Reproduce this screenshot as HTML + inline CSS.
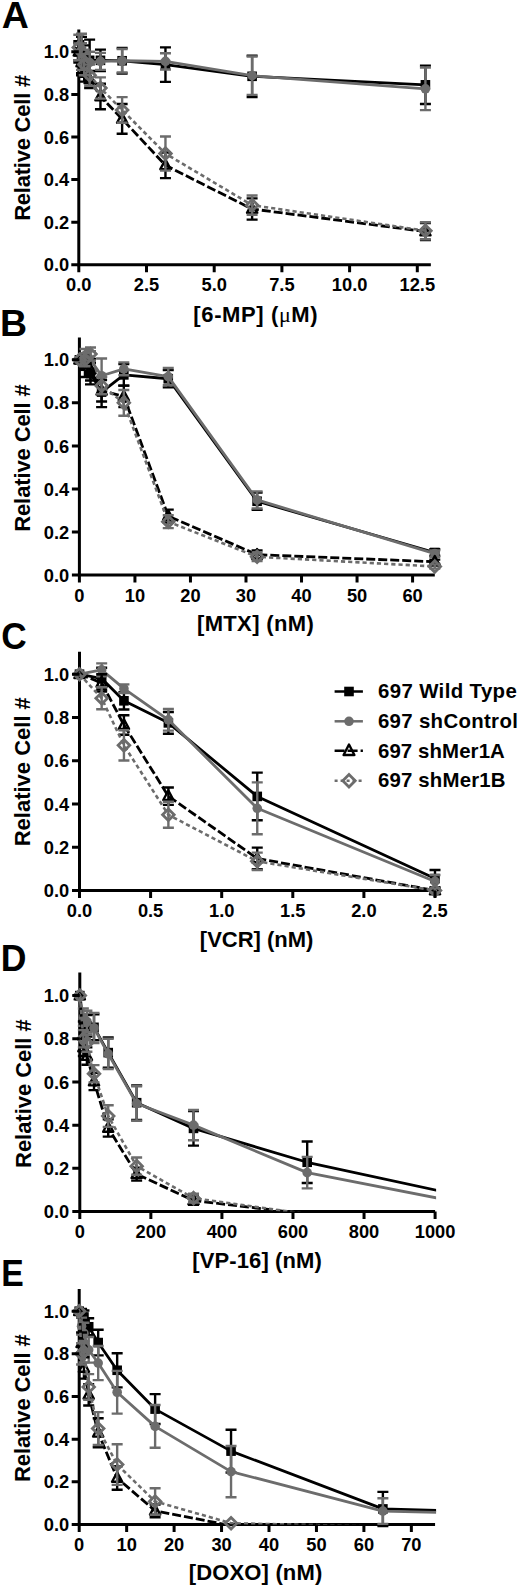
<!DOCTYPE html>
<html><head><meta charset="utf-8"><title>Figure</title>
<style>
html,body{margin:0;padding:0;background:#fff;}
svg{display:block;}
text{font-family:'Liberation Sans', sans-serif;font-weight:bold;fill:#000;}
.t{font-size:18.3px;}
.yt{font-size:22px;}
.L{font-size:37.5px;}
.mu{font-family:'Liberation Serif',serif;font-weight:normal;}
.lg{font-size:20.4px;}
</style></head>
<body>
<svg width="520" height="1589" viewBox="0 0 520 1589">
<rect width="520" height="1589" fill="#fff"/>
<clipPath id="cA"><rect x="66.8" y="14.44" width="374.04" height="265.37"/></clipPath>
<clipPath id="lA"><rect x="66.8" y="14.44" width="365.04" height="250.37"/></clipPath>
<path d="M78.8 29.44V264.8H430.84" stroke="#000" stroke-width="3" fill="none" stroke-linecap="butt"/>
<polyline clip-path="url(#lA)" points="78.8,51.8 81.51,56.06 84.22,58.19 89.63,60.32 100.46,60.32 122.13,60.75 165.46,64.58 252.11,76.3 425.42,84.82" fill="none" stroke="#000" stroke-width="2.8" stroke-linejoin="round"/>
<g clip-path="url(#cA)">
<path d="M78.8 43.28V60.32M73.3 43.28H84.3M73.3 60.32H84.3" stroke="#000" stroke-width="2.4" fill="none"/>
<path d="M81.51 36.89V75.23M76.01 36.89H87.01M76.01 75.23H87.01" stroke="#000" stroke-width="2.4" fill="none"/>
<path d="M84.22 45.41V70.97M78.72 45.41H89.72M78.72 70.97H89.72" stroke="#000" stroke-width="2.4" fill="none"/>
<path d="M89.63 39.66V80.98M84.13 39.66H95.13M84.13 80.98H95.13" stroke="#000" stroke-width="2.4" fill="none"/>
<path d="M100.46 49.67V70.97M94.96 49.67H105.96M94.96 70.97H105.96" stroke="#000" stroke-width="2.4" fill="none"/>
<path d="M122.13 47.97V73.53M116.63 47.97H127.63M116.63 73.53H127.63" stroke="#000" stroke-width="2.4" fill="none"/>
<path d="M165.46 47.33V81.83M159.96 47.33H170.96M159.96 81.83H170.96" stroke="#000" stroke-width="2.4" fill="none"/>
<path d="M252.11 55.63V96.96M246.61 55.63H257.61M246.61 96.96H257.61" stroke="#000" stroke-width="2.4" fill="none"/>
<path d="M425.42 65.65V103.99M419.92 65.65H430.92M419.92 103.99H430.92" stroke="#000" stroke-width="2.4" fill="none"/>
<rect x="74" y="47" width="9.6" height="9.6" fill="#000"/>
<rect x="76.71" y="51.26" width="9.6" height="9.6" fill="#000"/>
<rect x="79.42" y="53.39" width="9.6" height="9.6" fill="#000"/>
<rect x="84.83" y="55.52" width="9.6" height="9.6" fill="#000"/>
<rect x="95.66" y="55.52" width="9.6" height="9.6" fill="#000"/>
<rect x="117.33" y="55.95" width="9.6" height="9.6" fill="#000"/>
<rect x="160.66" y="59.78" width="9.6" height="9.6" fill="#000"/>
<rect x="247.31" y="71.5" width="9.6" height="9.6" fill="#000"/>
<rect x="420.62" y="80.02" width="9.6" height="9.6" fill="#000"/>
</g>
<polyline clip-path="url(#lA)" points="78.8,51.8 81.51,53.93 84.22,60.32 89.63,62.45 100.46,61.39 122.13,60.75 165.46,61.39 252.11,75.66 425.42,88.86" fill="none" stroke="#6c6c6c" stroke-width="2.8" stroke-linejoin="round"/>
<g clip-path="url(#cA)">
<path d="M78.8 43.28V60.32M73.3 43.28H84.3M73.3 60.32H84.3" stroke="#6c6c6c" stroke-width="2.4" fill="none"/>
<path d="M81.51 43.28V64.58M76.01 43.28H87.01M76.01 64.58H87.01" stroke="#6c6c6c" stroke-width="2.4" fill="none"/>
<path d="M84.22 49.67V70.97M78.72 49.67H89.72M78.72 70.97H89.72" stroke="#6c6c6c" stroke-width="2.4" fill="none"/>
<path d="M89.63 51.8V73.1M84.13 51.8H95.13M84.13 73.1H95.13" stroke="#6c6c6c" stroke-width="2.4" fill="none"/>
<path d="M100.46 52.87V69.91M94.96 52.87H105.96M94.96 69.91H105.96" stroke="#6c6c6c" stroke-width="2.4" fill="none"/>
<path d="M122.13 49.03V72.46M116.63 49.03H127.63M116.63 72.46H127.63" stroke="#6c6c6c" stroke-width="2.4" fill="none"/>
<path d="M165.46 53.29V69.48M159.96 53.29H170.96M159.96 69.48H170.96" stroke="#6c6c6c" stroke-width="2.4" fill="none"/>
<path d="M252.11 56.49V94.83M246.61 56.49H257.61M246.61 94.83H257.61" stroke="#6c6c6c" stroke-width="2.4" fill="none"/>
<path d="M425.42 67.56V110.16M419.92 67.56H430.92M419.92 110.16H430.92" stroke="#6c6c6c" stroke-width="2.4" fill="none"/>
<circle cx="78.8" cy="51.8" r="4.8" fill="#6c6c6c"/>
<circle cx="81.51" cy="53.93" r="4.8" fill="#6c6c6c"/>
<circle cx="84.22" cy="60.32" r="4.8" fill="#6c6c6c"/>
<circle cx="89.63" cy="62.45" r="4.8" fill="#6c6c6c"/>
<circle cx="100.46" cy="61.39" r="4.8" fill="#6c6c6c"/>
<circle cx="122.13" cy="60.75" r="4.8" fill="#6c6c6c"/>
<circle cx="165.46" cy="61.39" r="4.8" fill="#6c6c6c"/>
<circle cx="252.11" cy="75.66" r="4.8" fill="#6c6c6c"/>
<circle cx="425.42" cy="88.86" r="4.8" fill="#6c6c6c"/>
</g>
<polyline clip-path="url(#lA)" points="78.8,51.8 81.51,62.45 84.22,73.1 89.63,79.49 100.46,96.53 122.13,118.9 165.46,165.33 252.11,208.99 425.42,231.57" fill="none" stroke="#000" stroke-width="2.8" stroke-dasharray="9,3" stroke-linejoin="round"/>
<g clip-path="url(#cA)">
<path d="M78.8 41.15V62.45M73.3 41.15H84.3M73.3 62.45H84.3" stroke="#000" stroke-width="2.4" fill="none"/>
<path d="M81.51 51.8V73.1M76.01 51.8H87.01M76.01 73.1H87.01" stroke="#000" stroke-width="2.4" fill="none"/>
<path d="M84.22 64.58V81.62M78.72 64.58H89.72M78.72 81.62H89.72" stroke="#000" stroke-width="2.4" fill="none"/>
<path d="M89.63 70.97V88.01M84.13 70.97H95.13M84.13 88.01H95.13" stroke="#000" stroke-width="2.4" fill="none"/>
<path d="M100.46 83.75V109.31M94.96 83.75H105.96M94.96 109.31H105.96" stroke="#000" stroke-width="2.4" fill="none"/>
<path d="M122.13 103.98V133.81M116.63 103.98H127.63M116.63 133.81H127.63" stroke="#000" stroke-width="2.4" fill="none"/>
<path d="M165.46 152.55V178.11M159.96 152.55H170.96M159.96 178.11H170.96" stroke="#000" stroke-width="2.4" fill="none"/>
<path d="M252.11 198.34V219.64M246.61 198.34H257.61M246.61 219.64H257.61" stroke="#000" stroke-width="2.4" fill="none"/>
<path d="M425.42 223.05V240.09M419.92 223.05H430.92M419.92 240.09H430.92" stroke="#000" stroke-width="2.4" fill="none"/>
<polygon points="78.8,46.1 83.9,55.6 73.7,55.6" fill="none" stroke="#000" stroke-width="2.4" stroke-linejoin="round"/>
<polygon points="81.51,56.75 86.61,66.25 76.41,66.25" fill="none" stroke="#000" stroke-width="2.4" stroke-linejoin="round"/>
<polygon points="84.22,67.4 89.32,76.9 79.12,76.9" fill="none" stroke="#000" stroke-width="2.4" stroke-linejoin="round"/>
<polygon points="89.63,73.79 94.73,83.29 84.53,83.29" fill="none" stroke="#000" stroke-width="2.4" stroke-linejoin="round"/>
<polygon points="100.46,90.83 105.56,100.33 95.36,100.33" fill="none" stroke="#000" stroke-width="2.4" stroke-linejoin="round"/>
<polygon points="122.13,113.2 127.23,122.7 117.03,122.7" fill="none" stroke="#000" stroke-width="2.4" stroke-linejoin="round"/>
<polygon points="165.46,159.63 170.56,169.13 160.36,169.13" fill="none" stroke="#000" stroke-width="2.4" stroke-linejoin="round"/>
<polygon points="252.11,203.29 257.21,212.79 247.01,212.79" fill="none" stroke="#000" stroke-width="2.4" stroke-linejoin="round"/>
<polygon points="425.42,225.87 430.52,235.37 420.32,235.37" fill="none" stroke="#000" stroke-width="2.4" stroke-linejoin="round"/>
</g>
<polyline clip-path="url(#lA)" points="78.8,47.54 81.51,51.8 84.22,64.58 89.63,75.23 100.46,88.01 122.13,109.95 165.46,153.61 252.11,205.16 425.42,230.72" fill="none" stroke="#6c6c6c" stroke-width="2.6" stroke-dasharray="4.2,3" stroke-linejoin="round"/>
<g clip-path="url(#cA)">
<path d="M78.8 34.76V60.32M73.3 34.76H84.3M73.3 60.32H84.3" stroke="#6c6c6c" stroke-width="2.4" fill="none"/>
<path d="M81.51 33.7V69.91M76.01 33.7H87.01M76.01 69.91H87.01" stroke="#6c6c6c" stroke-width="2.4" fill="none"/>
<path d="M84.22 53.93V75.23M78.72 53.93H89.72M78.72 75.23H89.72" stroke="#6c6c6c" stroke-width="2.4" fill="none"/>
<path d="M89.63 64.58V85.88M84.13 64.58H95.13M84.13 85.88H95.13" stroke="#6c6c6c" stroke-width="2.4" fill="none"/>
<path d="M100.46 77.36V98.66M94.96 77.36H105.96M94.96 98.66H105.96" stroke="#6c6c6c" stroke-width="2.4" fill="none"/>
<path d="M122.13 97.17V122.73M116.63 97.17H127.63M116.63 122.73H127.63" stroke="#6c6c6c" stroke-width="2.4" fill="none"/>
<path d="M165.46 136.57V170.65M159.96 136.57H170.96M159.96 170.65H170.96" stroke="#6c6c6c" stroke-width="2.4" fill="none"/>
<path d="M252.11 195.57V214.75M246.61 195.57H257.61M246.61 214.75H257.61" stroke="#6c6c6c" stroke-width="2.4" fill="none"/>
<path d="M425.42 222.2V239.24M419.92 222.2H430.92M419.92 239.24H430.92" stroke="#6c6c6c" stroke-width="2.4" fill="none"/>
<polygon points="78.8,41.74 84.6,47.54 78.8,53.34 73,47.54" fill="none" stroke="#6c6c6c" stroke-width="2.8"/>
<polygon points="81.51,46 87.31,51.8 81.51,57.6 75.71,51.8" fill="none" stroke="#6c6c6c" stroke-width="2.8"/>
<polygon points="84.22,58.78 90.02,64.58 84.22,70.38 78.42,64.58" fill="none" stroke="#6c6c6c" stroke-width="2.8"/>
<polygon points="89.63,69.43 95.43,75.23 89.63,81.03 83.83,75.23" fill="none" stroke="#6c6c6c" stroke-width="2.8"/>
<polygon points="100.46,82.21 106.26,88.01 100.46,93.81 94.66,88.01" fill="none" stroke="#6c6c6c" stroke-width="2.8"/>
<polygon points="122.13,104.15 127.93,109.95 122.13,115.75 116.33,109.95" fill="none" stroke="#6c6c6c" stroke-width="2.8"/>
<polygon points="165.46,147.81 171.26,153.61 165.46,159.41 159.66,153.61" fill="none" stroke="#6c6c6c" stroke-width="2.8"/>
<polygon points="252.11,199.36 257.91,205.16 252.11,210.96 246.31,205.16" fill="none" stroke="#6c6c6c" stroke-width="2.8"/>
<polygon points="425.42,224.92 431.22,230.72 425.42,236.52 419.62,230.72" fill="none" stroke="#6c6c6c" stroke-width="2.8"/>
</g>
<text x="69.2" y="271.4" text-anchor="end" class="t">0.0</text>
<text x="69.2" y="228.8" text-anchor="end" class="t">0.2</text>
<text x="69.2" y="186.2" text-anchor="end" class="t">0.4</text>
<text x="69.2" y="143.6" text-anchor="end" class="t">0.6</text>
<text x="69.2" y="101" text-anchor="end" class="t">0.8</text>
<text x="69.2" y="58.4" text-anchor="end" class="t">1.0</text>
<text x="78.8" y="290.8" text-anchor="middle" class="t">0.0</text>
<text x="146.5" y="290.8" text-anchor="middle" class="t">2.5</text>
<text x="214.2" y="290.8" text-anchor="middle" class="t">5.0</text>
<text x="281.9" y="290.8" text-anchor="middle" class="t">7.5</text>
<text x="349.6" y="290.8" text-anchor="middle" class="t">10.0</text>
<text x="417.3" y="290.8" text-anchor="middle" class="t">12.5</text>
<path d="M71.3 264.8H78.8 M71.3 222.2H78.8 M71.3 179.6H78.8 M71.3 137H78.8 M71.3 94.4H78.8 M71.3 51.8H78.8 M78.8 264.8V272.3 M146.5 264.8V272.3 M214.2 264.8V272.3 M281.9 264.8V272.3 M349.6 264.8V272.3 M417.3 264.8V272.3" stroke="#000" stroke-width="3" fill="none"/>
<text transform="translate(29.5,0) rotate(-90)" x="-220.87" y="0" textLength="146.03" lengthAdjust="spacing" class="yt">Relative Cell #</text>
<text x="193.36" y="321.6" textLength="124.23" lengthAdjust="spacing" class="yt">[6-MP] (<tspan class="mu">μ</tspan>M)</text>
<text transform="translate(1.67,28.1) scale(1.0,1)" class="L">A</text>
<clipPath id="cB"><rect x="67.4" y="322.41" width="377.39" height="267.69"/></clipPath>
<clipPath id="lB"><rect x="67.4" y="322.41" width="368.39" height="252.69"/></clipPath>
<path d="M79.4 337.41V575.1H434.79" stroke="#000" stroke-width="3" fill="none" stroke-linecap="butt"/>
<polyline clip-path="url(#lB)" points="79.4,359.8 84.95,366.26 90.51,373.58 101.61,392.1 123.82,374.87 168.25,378.75 257.1,501.25 434.79,552.49" fill="none" stroke="#000" stroke-width="2.8" stroke-linejoin="round"/>
<g clip-path="url(#cB)">
<path d="M84.95 355.49V377.02M79.45 355.49H90.45M79.45 377.02H90.45" stroke="#000" stroke-width="2.4" fill="none"/>
<path d="M90.51 362.81V384.34M85.01 362.81H96.01M85.01 384.34H96.01" stroke="#000" stroke-width="2.4" fill="none"/>
<path d="M101.61 377.02V407.17M96.11 377.02H107.11M96.11 407.17H107.11" stroke="#000" stroke-width="2.4" fill="none"/>
<path d="M123.82 364.11V385.64M118.32 364.11H129.32M118.32 385.64H129.32" stroke="#000" stroke-width="2.4" fill="none"/>
<path d="M168.25 370.13V387.36M162.75 370.13H173.75M162.75 387.36H173.75" stroke="#000" stroke-width="2.4" fill="none"/>
<path d="M257.1 492.64V509.86M251.6 492.64H262.6M251.6 509.86H262.6" stroke="#000" stroke-width="2.4" fill="none"/>
<path d="M434.79 549.26V555.72M429.29 549.26H440.29M429.29 555.72H440.29" stroke="#000" stroke-width="2.4" fill="none"/>
<rect x="74.6" y="355" width="9.6" height="9.6" fill="#000"/>
<rect x="80.15" y="361.46" width="9.6" height="9.6" fill="#000"/>
<rect x="85.71" y="368.78" width="9.6" height="9.6" fill="#000"/>
<rect x="96.81" y="387.3" width="9.6" height="9.6" fill="#000"/>
<rect x="119.02" y="370.07" width="9.6" height="9.6" fill="#000"/>
<rect x="163.45" y="373.95" width="9.6" height="9.6" fill="#000"/>
<rect x="252.3" y="496.45" width="9.6" height="9.6" fill="#000"/>
<rect x="429.99" y="547.69" width="9.6" height="9.6" fill="#000"/>
</g>
<polyline clip-path="url(#lB)" points="79.4,359.8 84.95,355.49 90.51,359.8 101.61,375.73 123.82,368.84 168.25,376.59 257.1,499.96 434.79,553.57" fill="none" stroke="#6c6c6c" stroke-width="2.8" stroke-linejoin="round"/>
<g clip-path="url(#cB)">
<path d="M84.95 349.03V361.95M79.45 349.03H90.45M79.45 361.95H90.45" stroke="#6c6c6c" stroke-width="2.4" fill="none"/>
<path d="M90.51 351.19V368.41M85.01 351.19H96.01M85.01 368.41H96.01" stroke="#6c6c6c" stroke-width="2.4" fill="none"/>
<path d="M101.61 358.51V392.96M96.11 358.51H107.11M96.11 392.96H107.11" stroke="#6c6c6c" stroke-width="2.4" fill="none"/>
<path d="M123.82 362.38V375.3M118.32 362.38H129.32M118.32 375.3H129.32" stroke="#6c6c6c" stroke-width="2.4" fill="none"/>
<path d="M168.25 367.98V385.21M162.75 367.98H173.75M162.75 385.21H173.75" stroke="#6c6c6c" stroke-width="2.4" fill="none"/>
<path d="M257.1 491.35V508.57M251.6 491.35H262.6M251.6 508.57H262.6" stroke="#6c6c6c" stroke-width="2.4" fill="none"/>
<path d="M434.79 550.34V556.8M429.29 550.34H440.29M429.29 556.8H440.29" stroke="#6c6c6c" stroke-width="2.4" fill="none"/>
<circle cx="79.4" cy="359.8" r="4.8" fill="#6c6c6c"/>
<circle cx="84.95" cy="355.49" r="4.8" fill="#6c6c6c"/>
<circle cx="90.51" cy="359.8" r="4.8" fill="#6c6c6c"/>
<circle cx="101.61" cy="375.73" r="4.8" fill="#6c6c6c"/>
<circle cx="123.82" cy="368.84" r="4.8" fill="#6c6c6c"/>
<circle cx="168.25" cy="376.59" r="4.8" fill="#6c6c6c"/>
<circle cx="257.1" cy="499.96" r="4.8" fill="#6c6c6c"/>
<circle cx="434.79" cy="553.57" r="4.8" fill="#6c6c6c"/>
</g>
<polyline clip-path="url(#lB)" points="79.4,359.8 84.95,361.95 90.51,369.7 101.61,390.8 123.82,396.4 168.25,516.11 257.1,554.65 434.79,561.75" fill="none" stroke="#000" stroke-width="2.8" stroke-dasharray="9,3" stroke-linejoin="round"/>
<g clip-path="url(#cB)">
<path d="M84.95 355.49V368.41M79.45 355.49H90.45M79.45 368.41H90.45" stroke="#000" stroke-width="2.4" fill="none"/>
<path d="M90.51 358.94V380.47M85.01 358.94H96.01M85.01 380.47H96.01" stroke="#000" stroke-width="2.4" fill="none"/>
<path d="M101.61 380.04V401.57M96.11 380.04H107.11M96.11 401.57H107.11" stroke="#000" stroke-width="2.4" fill="none"/>
<path d="M123.82 385.64V407.17M118.32 385.64H129.32M118.32 407.17H129.32" stroke="#000" stroke-width="2.4" fill="none"/>
<path d="M168.25 509.65V522.57M162.75 509.65H173.75M162.75 522.57H173.75" stroke="#000" stroke-width="2.4" fill="none"/>
<path d="M257.1 550.34V558.95M251.6 550.34H262.6M251.6 558.95H262.6" stroke="#000" stroke-width="2.4" fill="none"/>
<path d="M434.79 559.6V563.9M429.29 559.6H440.29M429.29 563.9H440.29" stroke="#000" stroke-width="2.4" fill="none"/>
<polygon points="79.4,354.1 84.5,363.6 74.3,363.6" fill="none" stroke="#000" stroke-width="2.4" stroke-linejoin="round"/>
<polygon points="84.95,356.25 90.05,365.75 79.85,365.75" fill="none" stroke="#000" stroke-width="2.4" stroke-linejoin="round"/>
<polygon points="90.51,364 95.61,373.5 85.41,373.5" fill="none" stroke="#000" stroke-width="2.4" stroke-linejoin="round"/>
<polygon points="101.61,385.1 106.71,394.6 96.51,394.6" fill="none" stroke="#000" stroke-width="2.4" stroke-linejoin="round"/>
<polygon points="123.82,390.7 128.92,400.2 118.72,400.2" fill="none" stroke="#000" stroke-width="2.4" stroke-linejoin="round"/>
<polygon points="168.25,510.41 173.35,519.91 163.15,519.91" fill="none" stroke="#000" stroke-width="2.4" stroke-linejoin="round"/>
<polygon points="257.1,548.95 262.2,558.45 252,558.45" fill="none" stroke="#000" stroke-width="2.4" stroke-linejoin="round"/>
<polygon points="434.79,556.05 439.89,565.55 429.69,565.55" fill="none" stroke="#000" stroke-width="2.4" stroke-linejoin="round"/>
</g>
<polyline clip-path="url(#lB)" points="79.4,359.8 84.95,359.8 90.51,353.99 101.61,385.64 123.82,402.86 168.25,521.71 257.1,556.8 434.79,566.49" fill="none" stroke="#6c6c6c" stroke-width="2.6" stroke-dasharray="4.2,3" stroke-linejoin="round"/>
<g clip-path="url(#cB)">
<path d="M84.95 353.34V366.26M79.45 353.34H90.45M79.45 366.26H90.45" stroke="#6c6c6c" stroke-width="2.4" fill="none"/>
<path d="M90.51 347.53V360.45M85.01 347.53H96.01M85.01 360.45H96.01" stroke="#6c6c6c" stroke-width="2.4" fill="none"/>
<path d="M101.61 377.02V394.25M96.11 377.02H107.11M96.11 394.25H107.11" stroke="#6c6c6c" stroke-width="2.4" fill="none"/>
<path d="M123.82 389.94V415.78M118.32 389.94H129.32M118.32 415.78H129.32" stroke="#6c6c6c" stroke-width="2.4" fill="none"/>
<path d="M168.25 515.25V528.16M162.75 515.25H173.75M162.75 528.16H173.75" stroke="#6c6c6c" stroke-width="2.4" fill="none"/>
<path d="M257.1 552.49V561.11M251.6 552.49H262.6M251.6 561.11H262.6" stroke="#6c6c6c" stroke-width="2.4" fill="none"/>
<path d="M434.79 564.34V568.64M429.29 564.34H440.29M429.29 568.64H440.29" stroke="#6c6c6c" stroke-width="2.4" fill="none"/>
<polygon points="79.4,354 85.2,359.8 79.4,365.6 73.6,359.8" fill="none" stroke="#6c6c6c" stroke-width="2.8"/>
<polygon points="84.95,354 90.75,359.8 84.95,365.6 79.15,359.8" fill="none" stroke="#6c6c6c" stroke-width="2.8"/>
<polygon points="90.51,348.19 96.31,353.99 90.51,359.79 84.71,353.99" fill="none" stroke="#6c6c6c" stroke-width="2.8"/>
<polygon points="101.61,379.84 107.41,385.64 101.61,391.44 95.81,385.64" fill="none" stroke="#6c6c6c" stroke-width="2.8"/>
<polygon points="123.82,397.06 129.62,402.86 123.82,408.66 118.02,402.86" fill="none" stroke="#6c6c6c" stroke-width="2.8"/>
<polygon points="168.25,515.91 174.05,521.71 168.25,527.51 162.45,521.71" fill="none" stroke="#6c6c6c" stroke-width="2.8"/>
<polygon points="257.1,551 262.9,556.8 257.1,562.6 251.3,556.8" fill="none" stroke="#6c6c6c" stroke-width="2.8"/>
<polygon points="434.79,560.69 440.59,566.49 434.79,572.29 428.99,566.49" fill="none" stroke="#6c6c6c" stroke-width="2.8"/>
</g>
<text x="69.2" y="581.7" text-anchor="end" class="t">0.0</text>
<text x="69.2" y="538.64" text-anchor="end" class="t">0.2</text>
<text x="69.2" y="495.58" text-anchor="end" class="t">0.4</text>
<text x="69.2" y="452.52" text-anchor="end" class="t">0.6</text>
<text x="69.2" y="409.46" text-anchor="end" class="t">0.8</text>
<text x="69.2" y="366.4" text-anchor="end" class="t">1.0</text>
<text x="79.4" y="601.7" text-anchor="middle" class="t">0</text>
<text x="134.93" y="601.7" text-anchor="middle" class="t">10</text>
<text x="190.46" y="601.7" text-anchor="middle" class="t">20</text>
<text x="245.99" y="601.7" text-anchor="middle" class="t">30</text>
<text x="301.52" y="601.7" text-anchor="middle" class="t">40</text>
<text x="357.05" y="601.7" text-anchor="middle" class="t">50</text>
<text x="412.58" y="601.7" text-anchor="middle" class="t">60</text>
<path d="M71.9 575.1H79.4 M71.9 532.04H79.4 M71.9 488.98H79.4 M71.9 445.92H79.4 M71.9 402.86H79.4 M71.9 359.8H79.4 M79.4 575.1V582.6 M134.93 575.1V582.6 M190.46 575.1V582.6 M245.99 575.1V582.6 M301.52 575.1V582.6 M357.05 575.1V582.6 M412.58 575.1V582.6" stroke="#000" stroke-width="3" fill="none"/>
<text transform="translate(30.3,0) rotate(-90)" x="-531.77" y="0" textLength="147.63" lengthAdjust="spacing" class="yt">Relative Cell #</text>
<text x="196.96" y="630.6" textLength="116.83" lengthAdjust="spacing" class="yt">[MTX] (nM)</text>
<text transform="translate(-0.11,335.5) scale(1.0,1)" class="L">B</text>
<clipPath id="cC"><rect x="67.5" y="636.7" width="377.5" height="268.8"/></clipPath>
<clipPath id="lC"><rect x="67.5" y="636.7" width="368.5" height="253.8"/></clipPath>
<path d="M79.5 651.7V890.5H435" stroke="#000" stroke-width="3" fill="none" stroke-linecap="butt"/>
<polyline clip-path="url(#lC)" points="79.5,674.2 101.68,678.53 123.94,700.8 168.38,722.87 257.25,796.41 435,878.6" fill="none" stroke="#000" stroke-width="2.8" stroke-linejoin="round"/>
<g clip-path="url(#cC)">
<path d="M101.68 667.71V689.34M96.18 667.71H107.18M96.18 689.34H107.18" stroke="#000" stroke-width="2.4" fill="none"/>
<path d="M123.94 692.15V709.46M118.44 692.15H129.44M118.44 709.46H129.44" stroke="#000" stroke-width="2.4" fill="none"/>
<path d="M168.38 712.05V733.68M162.88 712.05H173.88M162.88 733.68H173.88" stroke="#000" stroke-width="2.4" fill="none"/>
<path d="M257.25 772.62V820.2M251.75 772.62H262.75M251.75 820.2H262.75" stroke="#000" stroke-width="2.4" fill="none"/>
<path d="M435 869.95V887.26M429.5 869.95H440.5M429.5 887.26H440.5" stroke="#000" stroke-width="2.4" fill="none"/>
<rect x="74.7" y="669.4" width="9.6" height="9.6" fill="#000"/>
<rect x="96.88" y="673.73" width="9.6" height="9.6" fill="#000"/>
<rect x="119.14" y="696" width="9.6" height="9.6" fill="#000"/>
<rect x="163.57" y="718.07" width="9.6" height="9.6" fill="#000"/>
<rect x="252.45" y="791.61" width="9.6" height="9.6" fill="#000"/>
<rect x="430.2" y="873.8" width="9.6" height="9.6" fill="#000"/>
</g>
<polyline clip-path="url(#lC)" points="79.5,674.2 101.68,669.87 123.94,688.69 168.38,719.84 257.25,808.31 435,881.42" fill="none" stroke="#6c6c6c" stroke-width="2.8" stroke-linejoin="round"/>
<g clip-path="url(#cC)">
<path d="M101.68 663.38V676.36M96.18 663.38H107.18M96.18 676.36H107.18" stroke="#6c6c6c" stroke-width="2.4" fill="none"/>
<path d="M123.94 684.37V693.02M118.44 684.37H129.44M118.44 693.02H129.44" stroke="#6c6c6c" stroke-width="2.4" fill="none"/>
<path d="M168.38 709.02V730.65M162.88 709.02H173.88M162.88 730.65H173.88" stroke="#6c6c6c" stroke-width="2.4" fill="none"/>
<path d="M257.25 782.35V834.26M251.75 782.35H262.75M251.75 834.26H262.75" stroke="#6c6c6c" stroke-width="2.4" fill="none"/>
<path d="M435 874.93V887.9M429.5 874.93H440.5M429.5 887.9H440.5" stroke="#6c6c6c" stroke-width="2.4" fill="none"/>
<circle cx="79.5" cy="674.2" r="4.8" fill="#6c6c6c"/>
<circle cx="101.68" cy="669.87" r="4.8" fill="#6c6c6c"/>
<circle cx="123.94" cy="688.69" r="4.8" fill="#6c6c6c"/>
<circle cx="168.38" cy="719.84" r="4.8" fill="#6c6c6c"/>
<circle cx="257.25" cy="808.31" r="4.8" fill="#6c6c6c"/>
<circle cx="435" cy="881.42" r="4.8" fill="#6c6c6c"/>
</g>
<polyline clip-path="url(#lC)" points="79.5,674.2 101.68,682.85 123.94,725.03 168.38,796.19 257.25,858.49 435,890.5" fill="none" stroke="#000" stroke-width="2.8" stroke-dasharray="9,3" stroke-linejoin="round"/>
<g clip-path="url(#cC)">
<path d="M101.68 674.2V691.5M96.18 674.2H107.18M96.18 691.5H107.18" stroke="#000" stroke-width="2.4" fill="none"/>
<path d="M123.94 715.3V734.76M118.44 715.3H129.44M118.44 734.76H129.44" stroke="#000" stroke-width="2.4" fill="none"/>
<path d="M168.38 787.54V804.85M162.88 787.54H173.88M162.88 804.85H173.88" stroke="#000" stroke-width="2.4" fill="none"/>
<path d="M257.25 847.67V869.3M251.75 847.67H262.75M251.75 869.3H262.75" stroke="#000" stroke-width="2.4" fill="none"/>
<path d="M435 888.34V892.66M429.5 888.34H440.5M429.5 892.66H440.5" stroke="#000" stroke-width="2.4" fill="none"/>
<polygon points="79.5,668.5 84.6,678 74.4,678" fill="none" stroke="#000" stroke-width="2.4" stroke-linejoin="round"/>
<polygon points="101.68,677.15 106.78,686.65 96.58,686.65" fill="none" stroke="#000" stroke-width="2.4" stroke-linejoin="round"/>
<polygon points="123.94,719.33 129.04,728.83 118.84,728.83" fill="none" stroke="#000" stroke-width="2.4" stroke-linejoin="round"/>
<polygon points="168.38,790.49 173.47,799.99 163.28,799.99" fill="none" stroke="#000" stroke-width="2.4" stroke-linejoin="round"/>
<polygon points="257.25,852.79 262.35,862.29 252.15,862.29" fill="none" stroke="#000" stroke-width="2.4" stroke-linejoin="round"/>
<polygon points="435,884.8 440.1,894.3 429.9,894.3" fill="none" stroke="#000" stroke-width="2.4" stroke-linejoin="round"/>
</g>
<polyline clip-path="url(#lC)" points="79.5,674.2 101.68,698.21 123.94,745.36 168.38,814.79 257.25,861.3 435,890.5" fill="none" stroke="#6c6c6c" stroke-width="2.6" stroke-dasharray="4.2,3" stroke-linejoin="round"/>
<g clip-path="url(#cC)">
<path d="M101.68 687.18V709.24M96.18 687.18H107.18M96.18 709.24H107.18" stroke="#6c6c6c" stroke-width="2.4" fill="none"/>
<path d="M123.94 730.22V760.5M118.44 730.22H129.44M118.44 760.5H129.44" stroke="#6c6c6c" stroke-width="2.4" fill="none"/>
<path d="M168.38 801.82V827.77M162.88 801.82H173.88M162.88 827.77H173.88" stroke="#6c6c6c" stroke-width="2.4" fill="none"/>
<path d="M257.25 852.65V869.95M251.75 852.65H262.75M251.75 869.95H262.75" stroke="#6c6c6c" stroke-width="2.4" fill="none"/>
<path d="M435 888.34V892.66M429.5 888.34H440.5M429.5 892.66H440.5" stroke="#6c6c6c" stroke-width="2.4" fill="none"/>
<polygon points="79.5,668.4 85.3,674.2 79.5,680 73.7,674.2" fill="none" stroke="#6c6c6c" stroke-width="2.8"/>
<polygon points="101.68,692.41 107.48,698.21 101.68,704.01 95.88,698.21" fill="none" stroke="#6c6c6c" stroke-width="2.8"/>
<polygon points="123.94,739.56 129.74,745.36 123.94,751.16 118.14,745.36" fill="none" stroke="#6c6c6c" stroke-width="2.8"/>
<polygon points="168.38,809 174.18,814.79 168.38,820.59 162.57,814.79" fill="none" stroke="#6c6c6c" stroke-width="2.8"/>
<polygon points="257.25,855.5 263.05,861.3 257.25,867.1 251.45,861.3" fill="none" stroke="#6c6c6c" stroke-width="2.8"/>
<polygon points="435,884.7 440.8,890.5 435,896.3 429.2,890.5" fill="none" stroke="#6c6c6c" stroke-width="2.8"/>
</g>
<text x="69.2" y="897.1" text-anchor="end" class="t">0.0</text>
<text x="69.2" y="853.84" text-anchor="end" class="t">0.2</text>
<text x="69.2" y="810.58" text-anchor="end" class="t">0.4</text>
<text x="69.2" y="767.32" text-anchor="end" class="t">0.6</text>
<text x="69.2" y="724.06" text-anchor="end" class="t">0.8</text>
<text x="69.2" y="680.8" text-anchor="end" class="t">1.0</text>
<text x="79.5" y="916.7" text-anchor="middle" class="t">0.0</text>
<text x="150.6" y="916.7" text-anchor="middle" class="t">0.5</text>
<text x="221.7" y="916.7" text-anchor="middle" class="t">1.0</text>
<text x="292.8" y="916.7" text-anchor="middle" class="t">1.5</text>
<text x="363.9" y="916.7" text-anchor="middle" class="t">2.0</text>
<text x="435" y="916.7" text-anchor="middle" class="t">2.5</text>
<path d="M72 890.5H79.5 M72 847.24H79.5 M72 803.98H79.5 M72 760.72H79.5 M72 717.46H79.5 M72 674.2H79.5 M79.5 890.5V898 M150.6 890.5V898 M221.7 890.5V898 M292.8 890.5V898 M363.9 890.5V898 M435 890.5V898" stroke="#000" stroke-width="3" fill="none"/>
<text transform="translate(30.3,0) rotate(-90)" x="-846.27" y="0" textLength="149.13" lengthAdjust="spacing" class="yt">Relative Cell #</text>
<text x="199.86" y="947.1" textLength="113.43" lengthAdjust="spacing" class="yt">[VCR] (nM)</text>
<text transform="translate(1.35,648.6) scale(0.94,1)" class="L">C</text>
<clipPath id="cD"><rect x="67.8" y="957.5" width="377.3" height="269"/></clipPath>
<clipPath id="lD"><rect x="67.8" y="957.5" width="368.3" height="254"/></clipPath>
<path d="M79.8 972.5V1211.5H435.1" stroke="#000" stroke-width="3" fill="none" stroke-linecap="butt"/>
<polyline clip-path="url(#lD)" points="79.8,995.6 83.35,1030.14 86.91,1025.83 94.01,1027.34 108.22,1052.6 136.65,1102.69 193.5,1128.38 307.19,1162.27 534.58,1211.5" fill="none" stroke="#000" stroke-width="2.8" stroke-linejoin="round"/>
<g clip-path="url(#cD)">
<path d="M83.35 1021.51V1038.78M77.85 1021.51H88.85M77.85 1038.78H88.85" stroke="#000" stroke-width="2.4" fill="none"/>
<path d="M86.91 1015.03V1036.62M81.41 1015.03H92.41M81.41 1036.62H92.41" stroke="#000" stroke-width="2.4" fill="none"/>
<path d="M94.01 1014.38V1040.29M88.51 1014.38H99.51M88.51 1040.29H99.51" stroke="#000" stroke-width="2.4" fill="none"/>
<path d="M108.22 1037.48V1067.71M102.72 1037.48H113.72M102.72 1067.71H113.72" stroke="#000" stroke-width="2.4" fill="none"/>
<path d="M136.65 1085.41V1119.96M131.15 1085.41H142.15M131.15 1119.96H142.15" stroke="#000" stroke-width="2.4" fill="none"/>
<path d="M193.5 1111.11V1145.65M188 1111.11H199M188 1145.65H199" stroke="#000" stroke-width="2.4" fill="none"/>
<path d="M307.19 1141.55V1183M301.69 1141.55H312.69M301.69 1183H312.69" stroke="#000" stroke-width="2.4" fill="none"/>
<rect x="75" y="990.8" width="9.6" height="9.6" fill="#000"/>
<rect x="78.55" y="1025.34" width="9.6" height="9.6" fill="#000"/>
<rect x="82.11" y="1021.03" width="9.6" height="9.6" fill="#000"/>
<rect x="89.21" y="1022.54" width="9.6" height="9.6" fill="#000"/>
<rect x="103.42" y="1047.8" width="9.6" height="9.6" fill="#000"/>
<rect x="131.85" y="1097.89" width="9.6" height="9.6" fill="#000"/>
<rect x="188.7" y="1123.58" width="9.6" height="9.6" fill="#000"/>
<rect x="302.39" y="1157.47" width="9.6" height="9.6" fill="#000"/>
</g>
<polyline clip-path="url(#lD)" points="79.8,995.6 83.35,1017.19 86.91,1021.51 94.01,1027.99 108.22,1053.89 136.65,1103.55 193.5,1125.14 307.19,1172.64 534.58,1217.11" fill="none" stroke="#6c6c6c" stroke-width="2.8" stroke-linejoin="round"/>
<g clip-path="url(#cD)">
<path d="M83.35 1008.55V1025.83M77.85 1008.55H88.85M77.85 1025.83H88.85" stroke="#6c6c6c" stroke-width="2.4" fill="none"/>
<path d="M86.91 1010.71V1032.3M81.41 1010.71H92.41M81.41 1032.3H92.41" stroke="#6c6c6c" stroke-width="2.4" fill="none"/>
<path d="M94.01 1012.87V1043.1M88.51 1012.87H99.51M88.51 1043.1H99.51" stroke="#6c6c6c" stroke-width="2.4" fill="none"/>
<path d="M108.22 1038.78V1069.01M102.72 1038.78H113.72M102.72 1069.01H113.72" stroke="#6c6c6c" stroke-width="2.4" fill="none"/>
<path d="M136.65 1086.28V1120.82M131.15 1086.28H142.15M131.15 1120.82H142.15" stroke="#6c6c6c" stroke-width="2.4" fill="none"/>
<path d="M193.5 1110.03V1140.25M188 1110.03H199M188 1140.25H199" stroke="#6c6c6c" stroke-width="2.4" fill="none"/>
<path d="M307.19 1156.88V1188.4M301.69 1156.88H312.69M301.69 1188.4H312.69" stroke="#6c6c6c" stroke-width="2.4" fill="none"/>
<circle cx="79.8" cy="995.6" r="4.8" fill="#6c6c6c"/>
<circle cx="83.35" cy="1017.19" r="4.8" fill="#6c6c6c"/>
<circle cx="86.91" cy="1021.51" r="4.8" fill="#6c6c6c"/>
<circle cx="94.01" cy="1027.99" r="4.8" fill="#6c6c6c"/>
<circle cx="108.22" cy="1053.89" r="4.8" fill="#6c6c6c"/>
<circle cx="136.65" cy="1103.55" r="4.8" fill="#6c6c6c"/>
<circle cx="193.5" cy="1125.14" r="4.8" fill="#6c6c6c"/>
<circle cx="307.19" cy="1172.64" r="4.8" fill="#6c6c6c"/>
</g>
<polyline clip-path="url(#lD)" points="79.8,995.6 83.35,1047.42 86.91,1056.05 94.01,1081.53 108.22,1127.95 136.65,1174.15 193.5,1200.49 307.19,1214.09" fill="none" stroke="#000" stroke-width="2.8" stroke-dasharray="9,3" stroke-linejoin="round"/>
<g clip-path="url(#cD)">
<path d="M83.35 1038.78V1056.05M77.85 1038.78H88.85M77.85 1056.05H88.85" stroke="#000" stroke-width="2.4" fill="none"/>
<path d="M86.91 1047.42V1064.69M81.41 1047.42H92.41M81.41 1064.69H92.41" stroke="#000" stroke-width="2.4" fill="none"/>
<path d="M94.01 1072.89V1090.16M88.51 1072.89H99.51M88.51 1090.16H99.51" stroke="#000" stroke-width="2.4" fill="none"/>
<path d="M108.22 1119.31V1136.58M102.72 1119.31H113.72M102.72 1136.58H113.72" stroke="#000" stroke-width="2.4" fill="none"/>
<path d="M136.65 1167.67V1180.63M131.15 1167.67H142.15M131.15 1180.63H142.15" stroke="#000" stroke-width="2.4" fill="none"/>
<path d="M193.5 1196.17V1204.81M188 1196.17H199M188 1204.81H199" stroke="#000" stroke-width="2.4" fill="none"/>
<polygon points="79.8,989.9 84.9,999.4 74.7,999.4" fill="none" stroke="#000" stroke-width="2.4" stroke-linejoin="round"/>
<polygon points="83.35,1041.72 88.45,1051.22 78.25,1051.22" fill="none" stroke="#000" stroke-width="2.4" stroke-linejoin="round"/>
<polygon points="86.91,1050.35 92.01,1059.85 81.81,1059.85" fill="none" stroke="#000" stroke-width="2.4" stroke-linejoin="round"/>
<polygon points="94.01,1075.83 99.11,1085.33 88.91,1085.33" fill="none" stroke="#000" stroke-width="2.4" stroke-linejoin="round"/>
<polygon points="108.22,1122.25 113.32,1131.75 103.12,1131.75" fill="none" stroke="#000" stroke-width="2.4" stroke-linejoin="round"/>
<polygon points="136.65,1168.45 141.75,1177.95 131.55,1177.95" fill="none" stroke="#000" stroke-width="2.4" stroke-linejoin="round"/>
<polygon points="193.5,1194.79 198.6,1204.29 188.4,1204.29" fill="none" stroke="#000" stroke-width="2.4" stroke-linejoin="round"/>
</g>
<polyline clip-path="url(#lD)" points="79.8,995.6 83.35,1038.78 86.91,1043.1 94.01,1073.76 108.22,1116.07 136.65,1166.16 193.5,1198.11 307.19,1214.09" fill="none" stroke="#6c6c6c" stroke-width="2.6" stroke-dasharray="4.2,3" stroke-linejoin="round"/>
<g clip-path="url(#cD)">
<path d="M83.35 1030.14V1047.42M77.85 1030.14H88.85M77.85 1047.42H88.85" stroke="#6c6c6c" stroke-width="2.4" fill="none"/>
<path d="M86.91 1034.46V1051.73M81.41 1034.46H92.41M81.41 1051.73H92.41" stroke="#6c6c6c" stroke-width="2.4" fill="none"/>
<path d="M94.01 1065.12V1082.39M88.51 1065.12H99.51M88.51 1082.39H99.51" stroke="#6c6c6c" stroke-width="2.4" fill="none"/>
<path d="M108.22 1105.28V1126.87M102.72 1105.28H113.72M102.72 1126.87H113.72" stroke="#6c6c6c" stroke-width="2.4" fill="none"/>
<path d="M136.65 1157.53V1174.8M131.15 1157.53H142.15M131.15 1174.8H142.15" stroke="#6c6c6c" stroke-width="2.4" fill="none"/>
<path d="M193.5 1193.8V1202.43M188 1193.8H199M188 1202.43H199" stroke="#6c6c6c" stroke-width="2.4" fill="none"/>
<polygon points="79.8,989.8 85.6,995.6 79.8,1001.4 74,995.6" fill="none" stroke="#6c6c6c" stroke-width="2.8"/>
<polygon points="83.35,1032.98 89.15,1038.78 83.35,1044.58 77.55,1038.78" fill="none" stroke="#6c6c6c" stroke-width="2.8"/>
<polygon points="86.91,1037.3 92.71,1043.1 86.91,1048.9 81.11,1043.1" fill="none" stroke="#6c6c6c" stroke-width="2.8"/>
<polygon points="94.01,1067.96 99.81,1073.76 94.01,1079.56 88.21,1073.76" fill="none" stroke="#6c6c6c" stroke-width="2.8"/>
<polygon points="108.22,1110.27 114.02,1116.07 108.22,1121.87 102.42,1116.07" fill="none" stroke="#6c6c6c" stroke-width="2.8"/>
<polygon points="136.65,1160.36 142.45,1166.16 136.65,1171.96 130.85,1166.16" fill="none" stroke="#6c6c6c" stroke-width="2.8"/>
<polygon points="193.5,1192.31 199.3,1198.11 193.5,1203.91 187.7,1198.11" fill="none" stroke="#6c6c6c" stroke-width="2.8"/>
</g>
<text x="69.2" y="1218.1" text-anchor="end" class="t">0.0</text>
<text x="69.2" y="1174.92" text-anchor="end" class="t">0.2</text>
<text x="69.2" y="1131.74" text-anchor="end" class="t">0.4</text>
<text x="69.2" y="1088.56" text-anchor="end" class="t">0.6</text>
<text x="69.2" y="1045.38" text-anchor="end" class="t">0.8</text>
<text x="69.2" y="1002.2" text-anchor="end" class="t">1.0</text>
<text x="79.8" y="1237.8" text-anchor="middle" class="t">0</text>
<text x="150.86" y="1237.8" text-anchor="middle" class="t">200</text>
<text x="221.92" y="1237.8" text-anchor="middle" class="t">400</text>
<text x="292.98" y="1237.8" text-anchor="middle" class="t">600</text>
<text x="364.04" y="1237.8" text-anchor="middle" class="t">800</text>
<text x="435.1" y="1237.8" text-anchor="middle" class="t">1000</text>
<path d="M72.3 1211.5H79.8 M72.3 1168.32H79.8 M72.3 1125.14H79.8 M72.3 1081.96H79.8 M72.3 1038.78H79.8 M72.3 995.6H79.8 M79.8 1211.5V1219 M150.86 1211.5V1219 M221.92 1211.5V1219 M292.98 1211.5V1219 M364.04 1211.5V1219 M435.1 1211.5V1219" stroke="#000" stroke-width="3" fill="none"/>
<text transform="translate(31,0) rotate(-90)" x="-1167.97" y="0" textLength="148.73" lengthAdjust="spacing" class="yt">Relative Cell #</text>
<text x="192.26" y="1267.7" textLength="129.58" lengthAdjust="spacing" class="yt">[VP-16] (nM)</text>
<text transform="translate(0.82,971.3) scale(0.95,1)" class="L">D</text>
<clipPath id="cE"><rect x="67.2" y="1274.02" width="377.88" height="265.48"/></clipPath>
<clipPath id="lE"><rect x="67.2" y="1274.02" width="368.88" height="250.48"/></clipPath>
<path d="M79.2 1289.02V1524.5H435.07" stroke="#000" stroke-width="3" fill="none" stroke-linecap="butt"/>
<polyline clip-path="url(#lE)" points="79.2,1311.2 81.57,1313.33 83.95,1316.96 88.69,1326.77 98.18,1342.56 117.16,1370.28 155.12,1409.1 231.04,1451.12 382.88,1508.93 686.56,1516.82" fill="none" stroke="#000" stroke-width="2.8" stroke-linejoin="round"/>
<g clip-path="url(#cE)">
<path d="M81.57 1309.07V1317.6M76.07 1309.07H87.07M76.07 1317.6H87.07" stroke="#000" stroke-width="2.4" fill="none"/>
<path d="M83.95 1310.56V1323.36M78.45 1310.56H89.45M78.45 1323.36H89.45" stroke="#000" stroke-width="2.4" fill="none"/>
<path d="M88.69 1318.24V1335.3M83.19 1318.24H94.19M83.19 1335.3H94.19" stroke="#000" stroke-width="2.4" fill="none"/>
<path d="M98.18 1329.76V1355.35M92.68 1329.76H103.68M92.68 1355.35H103.68" stroke="#000" stroke-width="2.4" fill="none"/>
<path d="M117.16 1353.22V1387.35M111.66 1353.22H122.66M111.66 1387.35H122.66" stroke="#000" stroke-width="2.4" fill="none"/>
<path d="M155.12 1394.17V1424.04M149.62 1394.17H160.62M149.62 1424.04H160.62" stroke="#000" stroke-width="2.4" fill="none"/>
<path d="M231.04 1429.79V1472.45M225.54 1429.79H236.54M225.54 1472.45H236.54" stroke="#000" stroke-width="2.4" fill="none"/>
<path d="M382.88 1491.87V1525.99M377.38 1491.87H388.38M377.38 1525.99H388.38" stroke="#000" stroke-width="2.4" fill="none"/>
<rect x="74.4" y="1306.4" width="9.6" height="9.6" fill="#000"/>
<rect x="76.77" y="1308.53" width="9.6" height="9.6" fill="#000"/>
<rect x="79.15" y="1312.16" width="9.6" height="9.6" fill="#000"/>
<rect x="83.89" y="1321.97" width="9.6" height="9.6" fill="#000"/>
<rect x="93.38" y="1337.76" width="9.6" height="9.6" fill="#000"/>
<rect x="112.36" y="1365.48" width="9.6" height="9.6" fill="#000"/>
<rect x="150.32" y="1404.3" width="9.6" height="9.6" fill="#000"/>
<rect x="226.24" y="1446.32" width="9.6" height="9.6" fill="#000"/>
<rect x="378.08" y="1504.13" width="9.6" height="9.6" fill="#000"/>
</g>
<polyline clip-path="url(#lE)" points="79.2,1311.2 81.57,1326.13 83.95,1333.38 88.69,1349.81 98.18,1363.03 117.16,1392.25 155.12,1426.38 231.04,1471.6 382.88,1511.06 686.56,1518.1" fill="none" stroke="#6c6c6c" stroke-width="2.8" stroke-linejoin="round"/>
<g clip-path="url(#cE)">
<path d="M81.57 1317.6V1334.66M76.07 1317.6H87.07M76.07 1334.66H87.07" stroke="#6c6c6c" stroke-width="2.4" fill="none"/>
<path d="M83.95 1322.72V1344.05M78.45 1322.72H89.45M78.45 1344.05H89.45" stroke="#6c6c6c" stroke-width="2.4" fill="none"/>
<path d="M88.69 1337.01V1362.61M83.19 1337.01H94.19M83.19 1362.61H94.19" stroke="#6c6c6c" stroke-width="2.4" fill="none"/>
<path d="M98.18 1345.97V1380.1M92.68 1345.97H103.68M92.68 1380.1H103.68" stroke="#6c6c6c" stroke-width="2.4" fill="none"/>
<path d="M117.16 1370.92V1413.58M111.66 1370.92H122.66M111.66 1413.58H122.66" stroke="#6c6c6c" stroke-width="2.4" fill="none"/>
<path d="M155.12 1405.05V1447.71M149.62 1405.05H160.62M149.62 1447.71H160.62" stroke="#6c6c6c" stroke-width="2.4" fill="none"/>
<path d="M231.04 1446.01V1497.2M225.54 1446.01H236.54M225.54 1497.2H236.54" stroke="#6c6c6c" stroke-width="2.4" fill="none"/>
<path d="M382.88 1498.26V1523.86M377.38 1498.26H388.38M377.38 1523.86H388.38" stroke="#6c6c6c" stroke-width="2.4" fill="none"/>
<circle cx="79.2" cy="1311.2" r="4.8" fill="#6c6c6c"/>
<circle cx="81.57" cy="1326.13" r="4.8" fill="#6c6c6c"/>
<circle cx="83.95" cy="1333.38" r="4.8" fill="#6c6c6c"/>
<circle cx="88.69" cy="1349.81" r="4.8" fill="#6c6c6c"/>
<circle cx="98.18" cy="1363.03" r="4.8" fill="#6c6c6c"/>
<circle cx="117.16" cy="1392.25" r="4.8" fill="#6c6c6c"/>
<circle cx="155.12" cy="1426.38" r="4.8" fill="#6c6c6c"/>
<circle cx="231.04" cy="1471.6" r="4.8" fill="#6c6c6c"/>
<circle cx="382.88" cy="1511.06" r="4.8" fill="#6c6c6c"/>
</g>
<polyline clip-path="url(#lE)" points="79.2,1311.2 81.57,1343.19 83.95,1367.94 88.69,1394.81 98.18,1432.78 117.16,1478 155.12,1510.85 231.04,1525.57 382.88,1526.63" fill="none" stroke="#000" stroke-width="2.8" stroke-dasharray="9,3" stroke-linejoin="round"/>
<g clip-path="url(#cE)">
<path d="M81.57 1332.53V1353.86M76.07 1332.53H87.07M76.07 1353.86H87.07" stroke="#000" stroke-width="2.4" fill="none"/>
<path d="M83.95 1357.27V1378.6M78.45 1357.27H89.45M78.45 1378.6H89.45" stroke="#000" stroke-width="2.4" fill="none"/>
<path d="M88.69 1384.15V1405.48M83.19 1384.15H94.19M83.19 1405.48H94.19" stroke="#000" stroke-width="2.4" fill="none"/>
<path d="M98.18 1418.28V1447.29M92.68 1418.28H103.68M92.68 1447.29H103.68" stroke="#000" stroke-width="2.4" fill="none"/>
<path d="M117.16 1466.27V1489.73M111.66 1466.27H122.66M111.66 1489.73H122.66" stroke="#000" stroke-width="2.4" fill="none"/>
<path d="M155.12 1504.45V1517.25M149.62 1504.45H160.62M149.62 1517.25H160.62" stroke="#000" stroke-width="2.4" fill="none"/>
<polygon points="79.2,1305.5 84.3,1315 74.1,1315" fill="none" stroke="#000" stroke-width="2.4" stroke-linejoin="round"/>
<polygon points="81.57,1337.49 86.67,1346.99 76.47,1346.99" fill="none" stroke="#000" stroke-width="2.4" stroke-linejoin="round"/>
<polygon points="83.95,1362.24 89.05,1371.74 78.85,1371.74" fill="none" stroke="#000" stroke-width="2.4" stroke-linejoin="round"/>
<polygon points="88.69,1389.11 93.79,1398.61 83.59,1398.61" fill="none" stroke="#000" stroke-width="2.4" stroke-linejoin="round"/>
<polygon points="98.18,1427.08 103.28,1436.58 93.08,1436.58" fill="none" stroke="#000" stroke-width="2.4" stroke-linejoin="round"/>
<polygon points="117.16,1472.3 122.26,1481.8 112.06,1481.8" fill="none" stroke="#000" stroke-width="2.4" stroke-linejoin="round"/>
<polygon points="155.12,1505.15 160.22,1514.65 150.02,1514.65" fill="none" stroke="#000" stroke-width="2.4" stroke-linejoin="round"/>
</g>
<polyline clip-path="url(#lE)" points="79.2,1311.2 81.57,1353.86 83.95,1351.73 88.69,1386.92 98.18,1428.51 117.16,1464.56 155.12,1501.46 231.04,1523.22 382.88,1526.63" fill="none" stroke="#6c6c6c" stroke-width="2.6" stroke-dasharray="4.2,3" stroke-linejoin="round"/>
<g clip-path="url(#cE)">
<path d="M81.57 1343.19V1364.53M76.07 1343.19H87.07M76.07 1364.53H87.07" stroke="#6c6c6c" stroke-width="2.4" fill="none"/>
<path d="M83.95 1341.06V1362.39M78.45 1341.06H89.45M78.45 1362.39H89.45" stroke="#6c6c6c" stroke-width="2.4" fill="none"/>
<path d="M88.69 1374.12V1399.72M83.19 1374.12H94.19M83.19 1399.72H94.19" stroke="#6c6c6c" stroke-width="2.4" fill="none"/>
<path d="M98.18 1412.09V1444.94M92.68 1412.09H103.68M92.68 1444.94H103.68" stroke="#6c6c6c" stroke-width="2.4" fill="none"/>
<path d="M117.16 1444.3V1484.83M111.66 1444.3H122.66M111.66 1484.83H122.66" stroke="#6c6c6c" stroke-width="2.4" fill="none"/>
<path d="M155.12 1488.24V1514.69M149.62 1488.24H160.62M149.62 1514.69H160.62" stroke="#6c6c6c" stroke-width="2.4" fill="none"/>
<polygon points="79.2,1305.4 85,1311.2 79.2,1317 73.4,1311.2" fill="none" stroke="#6c6c6c" stroke-width="2.8"/>
<polygon points="81.57,1348.06 87.37,1353.86 81.57,1359.66 75.77,1353.86" fill="none" stroke="#6c6c6c" stroke-width="2.8"/>
<polygon points="83.95,1345.93 89.75,1351.73 83.95,1357.53 78.15,1351.73" fill="none" stroke="#6c6c6c" stroke-width="2.8"/>
<polygon points="88.69,1381.12 94.49,1386.92 88.69,1392.72 82.89,1386.92" fill="none" stroke="#6c6c6c" stroke-width="2.8"/>
<polygon points="98.18,1422.71 103.98,1428.51 98.18,1434.31 92.38,1428.51" fill="none" stroke="#6c6c6c" stroke-width="2.8"/>
<polygon points="117.16,1458.76 122.96,1464.56 117.16,1470.36 111.36,1464.56" fill="none" stroke="#6c6c6c" stroke-width="2.8"/>
<polygon points="155.12,1495.66 160.92,1501.46 155.12,1507.26 149.32,1501.46" fill="none" stroke="#6c6c6c" stroke-width="2.8"/>
<polygon points="231.04,1517.42 236.84,1523.22 231.04,1529.02 225.24,1523.22" fill="none" stroke="#6c6c6c" stroke-width="2.8"/>
</g>
<text x="69.2" y="1531.1" text-anchor="end" class="t">0.0</text>
<text x="69.2" y="1488.44" text-anchor="end" class="t">0.2</text>
<text x="69.2" y="1445.78" text-anchor="end" class="t">0.4</text>
<text x="69.2" y="1403.12" text-anchor="end" class="t">0.6</text>
<text x="69.2" y="1360.46" text-anchor="end" class="t">0.8</text>
<text x="69.2" y="1317.8" text-anchor="end" class="t">1.0</text>
<text x="79.2" y="1550.6" text-anchor="middle" class="t">0</text>
<text x="126.65" y="1550.6" text-anchor="middle" class="t">10</text>
<text x="174.1" y="1550.6" text-anchor="middle" class="t">20</text>
<text x="221.55" y="1550.6" text-anchor="middle" class="t">30</text>
<text x="269" y="1550.6" text-anchor="middle" class="t">40</text>
<text x="316.45" y="1550.6" text-anchor="middle" class="t">50</text>
<text x="363.9" y="1550.6" text-anchor="middle" class="t">60</text>
<text x="411.35" y="1550.6" text-anchor="middle" class="t">70</text>
<path d="M71.7 1524.5H79.2 M71.7 1481.84H79.2 M71.7 1439.18H79.2 M71.7 1396.52H79.2 M71.7 1353.86H79.2 M71.7 1311.2H79.2 M79.2 1524.5V1532 M126.65 1524.5V1532 M174.1 1524.5V1532 M221.55 1524.5V1532 M269 1524.5V1532 M316.45 1524.5V1532 M363.9 1524.5V1532 M411.35 1524.5V1532" stroke="#000" stroke-width="3" fill="none"/>
<text transform="translate(30.3,0) rotate(-90)" x="-1481.97" y="0" textLength="147.63" lengthAdjust="spacing" class="yt">Relative Cell #</text>
<text x="188.66" y="1580.2" textLength="133.63" lengthAdjust="spacing" class="yt">[DOXO] (nM)</text>
<text transform="translate(1.24,1285.5) scale(0.9,1)" class="L">E</text>
<line x1="334.6" y1="691.5" x2="362.9" y2="691.5" stroke="#000" stroke-width="2.5"/>
<rect x="344.2" y="686.7" width="9.6" height="9.6" fill="#000"/>
<text x="377.95" y="698" textLength="138.84" lengthAdjust="spacing" class="lg">697 Wild Type</text>
<line x1="334.6" y1="721.3" x2="362.9" y2="721.3" stroke="#6c6c6c" stroke-width="2.5"/>
<circle cx="349" cy="721.3" r="4.8" fill="#6c6c6c"/>
<text x="377.95" y="728" textLength="139.89" lengthAdjust="spacing" class="lg">697 shControl</text>
<line x1="334.6" y1="750.8" x2="362.9" y2="750.8" stroke="#000" stroke-width="2.5" stroke-dasharray="10,3"/>
<polygon points="349,744.5 354.4,755 343.6,755" fill="none" stroke="#000" stroke-width="2.4" stroke-linejoin="round"/>
<text x="377.95" y="757.9" textLength="126.88" lengthAdjust="spacing" class="lg">697 shMer1A</text>
<line x1="334.6" y1="780.8" x2="362.9" y2="780.8" stroke="#6c6c6c" stroke-width="2.5" stroke-dasharray="3,3"/>
<polygon points="349,774.6 355.2,780.8 349,787 342.8,780.8" fill="none" stroke="#6c6c6c" stroke-width="2.8"/>
<text x="377.95" y="787.3" textLength="127.57" lengthAdjust="spacing" class="lg">697 shMer1B</text>
</svg>
</body></html>
